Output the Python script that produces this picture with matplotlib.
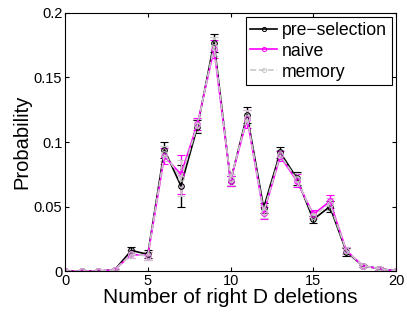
import matplotlib
matplotlib.use("Agg")
import matplotlib.pyplot as plt
from matplotlib.lines import Line2D

# Данные
deletions = list(range(21))
pre_selection = [0, 0, 0, 0.001, 0.016, 0.013, 0.094, 0.066, 0.112, 0.177, 0.070,
                 0.121, 0.049, 0.092, 0.072, 0.040, 0.050, 0.015, 0.004, 0.002, 0.0]
pre_err = [0, 0, 0, 0.001, 0.003, 0.003, 0.006, 0.016, 0.005, 0.007, 0.004,
           0.006, 0.004, 0.004, 0.005, 0.003, 0.004, 0.003, 0.001, 0.001, 0]
naive = [0, 0, 0, 0.001, 0.013, 0.012, 0.089, 0.075, 0.114, 0.172, 0.070,
         0.118, 0.045, 0.089, 0.070, 0.044, 0.054, 0.016, 0.004, 0.002, 0.0]
naive_err = [0, 0, 0, 0.001, 0.003, 0.003, 0.006, 0.015, 0.005, 0.007, 0.004,
             0.007, 0.005, 0.004, 0.005, 0.003, 0.005, 0.003, 0.001, 0.001, 0]
memory = [0, 0, 0, 0.001, 0.013, 0.012, 0.091, 0.072, 0.113, 0.174, 0.071,
          0.119, 0.046, 0.090, 0.071, 0.043, 0.052, 0.016, 0.004, 0.002, 0.0]
memory_err = [0, 0, 0, 0.001, 0.003, 0.003, 0.006, 0.014, 0.005, 0.007, 0.004,
              0.006, 0.005, 0.004, 0.005, 0.003, 0.005, 0.003, 0.001, 0.001, 0]

labels = ["pre\u2212selection", "naive", "memory"]
colors = ["black", "#ff00ff", "#c8c8c8"]
styles = ["-", "-", "--"]

plt.rcParams["font.family"] = ["Liberation Sans", "DejaVu Sans"]

fig = plt.figure(figsize=(4.07, 3.16), dpi=100)
ax = fig.add_axes([0.16, 0.142, 0.813, 0.817])

series = [(pre_selection, pre_err), (naive, naive_err), (memory, memory_err)]
handles = []
for (vals, errs), col, ls, lab in zip(series, colors, styles, labels):
    ax.errorbar(deletions, vals, yerr=errs, color=col, lw=1.2, ls=ls,
                marker="o", ms=4, mfc="none", mew=0.8, capsize=3, elinewidth=1)
    handles.append(Line2D([], [], color=col, lw=1.2, ls=ls, marker="o", ms=3,
                          mfc="none", mew=0.7, label=lab))

ax.set_xlim(0, 20)
ax.set_ylim(0, 0.2)
ax.set_xticks([0, 5, 10, 15, 20])
ax.set_yticks([0, 0.05, 0.1, 0.15, 0.2])
ax.set_yticklabels(["0", "0.05", "0.1", "0.15", "0.2"])
ax.tick_params(direction="in", top=True, right=True, labelsize=10.5, length=3, pad=2)
ax.set_xlabel("Number of right D deletions", fontsize=15, labelpad=0)
ax.set_ylabel("Probability", fontsize=14.5, labelpad=2)

leg = ax.legend(handles=handles, loc="upper right", fontsize=12.7, fancybox=False,
                framealpha=1, edgecolor="black", handlelength=1.5,
                handletextpad=0.3, borderpad=0.25, labelspacing=0.22,
                borderaxespad=0.25)
leg.get_frame().set_linewidth(0.8)

fig.savefig("out.png", dpi=100)
